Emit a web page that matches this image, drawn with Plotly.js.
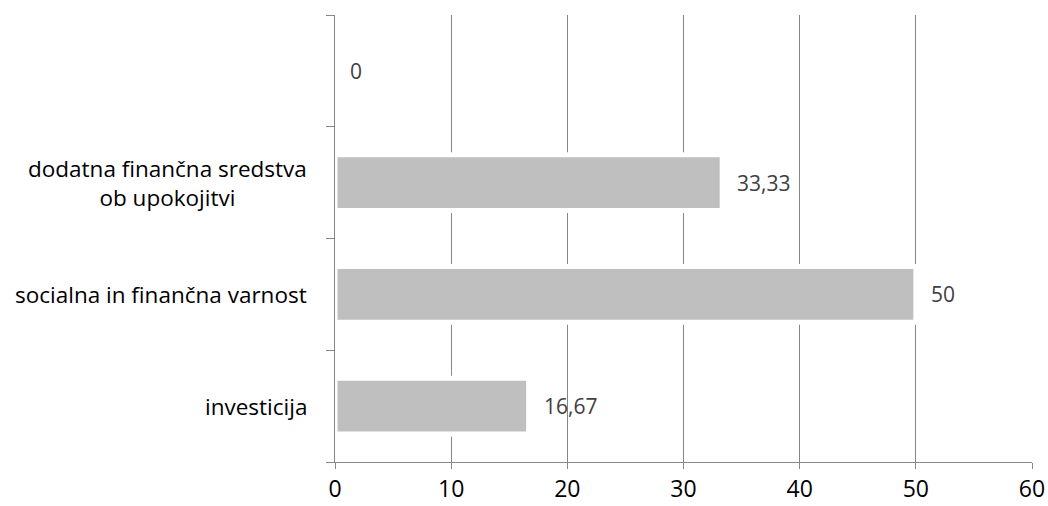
<!DOCTYPE html>
<html>
<head>
<meta charset="utf-8">
<script src="https://cdn.plot.ly/plotly-3.0.1.min.js"></script>
<style>
  html, body { margin: 0; padding: 0; background: #ffffff; }
  #chart { width: 1048px; height: 506px; }
</style>
</head>
<body>
<div id="chart"></div>
<script>
// Categories from bottom to top; the top row has no label.
const categories = [
  'investicija',
  'socialna in finančna varnost',
  'dodatna finančna sredstva<br>ob upokojitvi',
  ' '
];
const values = [16.67, 50, 33.33, 0];
const xTicks = [0, 10, 20, 30, 40, 50, 60];

const FONT = 'Open Sans';
const AXIS_GRAY = '#868686';

const fmt = v => String(v).replace('.', ',');

const trace = {
  type: 'bar',
  orientation: 'h',
  y: categories,
  x: values,
  width: 0.5,
  marker: { color: '#BFBFBF', line: { color: '#ffffff', width: 5 } },
  hoverinfo: 'none'
};

// Value labels beside each bar end.
const valueLabels = values.map((v, i) => ({
  x: v, y: categories[i], xref: 'x', yref: 'y',
  text: fmt(v), showarrow: false,
  xanchor: 'left', yanchor: 'middle', xshift: 13,
  font: { family: FONT, size: 21, color: '#404040' }
}));

// Category labels, centred line by line, right edge near the axis.
const categoryLabels = categories.map(c => ({
  x: 0, y: c, xref: 'paper', yref: 'y',
  text: c, showarrow: false,
  xanchor: 'right', yanchor: 'middle', align: 'center', xshift: -26,
  font: { family: FONT, size: 22.5, color: '#000000' }
}));

const layout = {
  width: 1048, height: 506,
  margin: { l: 335, r: 16, t: 15, b: 44 },
  paper_bgcolor: '#ffffff', plot_bgcolor: '#ffffff',
  showlegend: false,
  font: { family: FONT, color: '#000000' },
  xaxis: {
    range: [0, 60], tickvals: xTicks, ticktext: xTicks.map(String),
    showgrid: true, gridcolor: AXIS_GRAY, gridwidth: 1,
    zeroline: false, showline: true, linecolor: AXIS_GRAY, linewidth: 1,
    ticks: 'outside', ticklen: 6, tickcolor: AXIS_GRAY,
    tickfont: { family: FONT, size: 23, color: '#000000' },
    fixedrange: true
  },
  yaxis: {
    type: 'category', categoryorder: 'array', categoryarray: categories,
    range: [-0.5, 3.5],
    showgrid: false, zeroline: false,
    showline: true, linecolor: AXIS_GRAY, linewidth: 1,
    ticks: 'outside', ticklen: 8, tickcolor: AXIS_GRAY, tickson: 'boundaries',
    showticklabels: false,
    fixedrange: true
  },
  annotations: valueLabels.concat(categoryLabels)
};

Plotly.newPlot('chart', [trace], layout, { displayModeBar: false, staticPlot: true });
</script>
</body>
</html>
